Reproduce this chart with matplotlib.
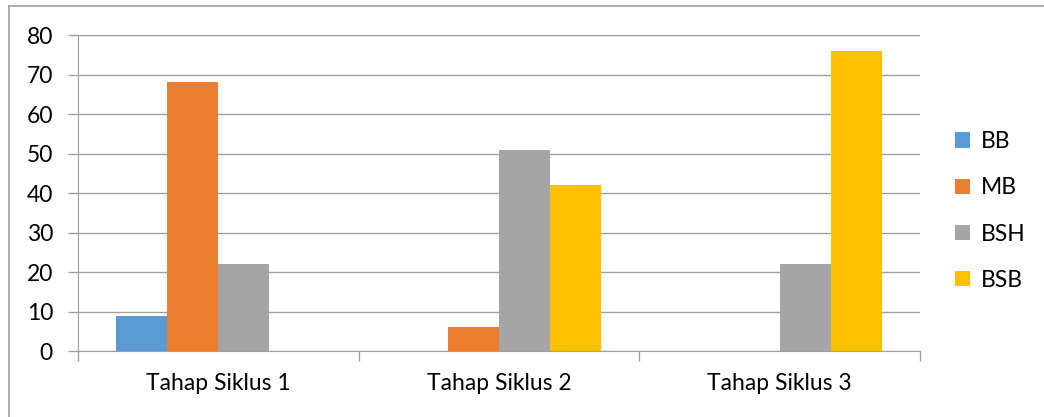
import matplotlib.pyplot as plt
import numpy as np
from matplotlib.lines import Line2D

plt.rcParams['font.family'] = ['Lato', 'DejaVu Sans']

categories = ['Tahap Siklus 1', 'Tahap Siklus 2', 'Tahap Siklus 3']
series = ['BB', 'MB', 'BSH', 'BSB']
bb = [9, 0, 0]
mb = [68, 6, 0]
bsh = [22, 51, 22]
bsb = [0, 42, 76]
colors = ['#5B9BD5', '#ED7D31', '#A5A5A5', '#FFC000']

values = [bb, mb, bsh, bsb]

fig = plt.figure(figsize=(10.44, 4.17), dpi=100)
ax = fig.add_axes([0.0747, 0.158, 0.8065, 0.758])

x = np.arange(len(categories))
width = 0.182
for i, (name, vals) in enumerate(zip(series, values)):
    ax.bar(x + (i - 1.5) * width, vals, width, color=colors[i], label=name, zorder=3)

ax.set_xlim(-0.5, 2.5)
ax.set_ylim(0, 80)
ax.set_yticks(range(0, 81, 10))
ax.grid(axis='y', color='#A0A0A0', linewidth=1.0, zorder=0)

# category ticks between groups
ax.set_xticks([-0.5, 0.5, 1.5, 2.5])
ax.set_xticklabels([])
ax.set_xticks(x, minor=True)
ax.set_xticklabels(categories, minor=True)
ax.tick_params(axis='x', which='major', length=7, color='#A0A0A0', width=1)
ax.tick_params(axis='x', which='minor', length=0, pad=16, labelsize=16.5)
ax.tick_params(axis='y', length=7, color='#A0A0A0', width=1, labelsize=16.5, pad=11)

for s in ['top', 'right']:
    ax.spines[s].set_visible(False)
ax.spines['left'].set_color('#A0A0A0')
ax.spines['bottom'].set_color('#A0A0A0')

leg = fig.legend(loc='center left', bbox_to_anchor=(0.915, 0.494), frameon=False,
                 fontsize=16.5, handlelength=0.65, handleheight=0.65, handletextpad=0.45,
                 labelspacing=1.1, borderaxespad=0, borderpad=0)

# chart border (top and left only visible)
fig.add_artist(Line2D([9 / 1044, 9 / 1044], [0, 1 - 6 / 417], transform=fig.transFigure,
                      color='#A0A0A0', linewidth=1.2))
fig.add_artist(Line2D([9 / 1044, 1], [1 - 6 / 417, 1 - 6 / 417], transform=fig.transFigure,
                      color='#A0A0A0', linewidth=1.2))

fig.savefig('out.png', dpi=100)
